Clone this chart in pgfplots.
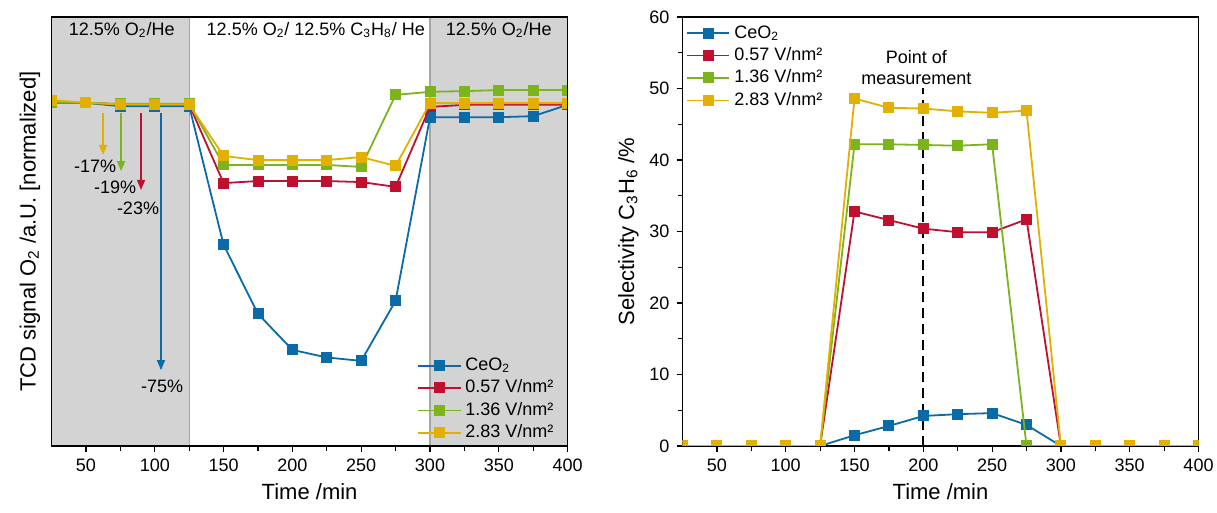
\documentclass[border=0pt]{standalone}
\usepackage{fontspec}
\setmainfont{Liberation Sans}
\usepackage{pgfplots}
\pgfplotsset{compat=1.18}
\usetikzlibrary{arrows.meta}

\definecolor{cblue}{HTML}{0B6BA8}
\definecolor{cred}{HTML}{C0102F}
\definecolor{cgreen}{HTML}{7CB41C}
\definecolor{cyellow}{HTML}{E2B000}
\definecolor{cgray}{HTML}{D3D3D3}
\definecolor{cgrayline}{HTML}{A6A6A6}

\newcommand{\ticksize}{\fontsize{9}{10.8}\selectfont}
\newcommand{\labsize}{\fontsize{11}{13.2}\selectfont}
\newcommand{\notesize}{\fontsize{9}{11}\selectfont}

\pgfplotsset{
  panel/.style={
    scale only axis, width=258pt, height=214.5pt,
    xmin=25, xmax=400, xtick={50,100,...,400}, minor x tick num=1,
    tick align=outside, xtick pos=bottom, ytick pos=left,
    major tick length=3pt, minor tick length=2.5pt,
    axis line style={line width=0.8pt},
    every tick/.style={black, line width=0.6pt},
    /pgf/number format/assume math mode=true,
    tick label style={font=\ticksize},
    label style={font=\labsize},
    xlabel={Time /min},
    xlabel style={at={(axis description cs:0.5,-0.107)}, anchor=center},
    legend style={draw=none, fill=none, font=\ticksize, cells={anchor=west},
      row sep=-0.8pt, inner sep=1pt},
    legend image code/.code={\draw[mark repeat=2,mark phase=2]
      plot coordinates {(0cm,0cm) (0.37cm,0cm) (0.74cm,0cm)};},
    every axis plot/.append style={line width=0.9pt, mark=square*, mark size=2.3pt},
    clip marker paths=true,
  }
}

\begin{document}
\begin{tikzpicture}
\useasboundingbox (-25.8pt,-33.5pt) rectangle (582.7pt,223pt);

% left panel: O2 signal
\begin{axis}[panel, ymin=0, ymax=1.25, ytick=\empty, axis on top,
  ylabel={TCD signal O\textsubscript{2} /a.U. [normalized]},
  ylabel style={at={(axis description cs:-0.042,0.5)}, anchor=center},
  legend style={at={(0.985,-0.003)}, anchor=south east}]
\fill[cgray] (axis cs:25,0) rectangle (axis cs:125,1.25);
\fill[cgray] (axis cs:300,0) rectangle (axis cs:400,1.25);
\draw[cgrayline, line width=0.7pt] (axis cs:125,0) -- (axis cs:125,1.25);
\draw[cgrayline, line width=0.7pt] (axis cs:300,0) -- (axis cs:300,1.25);

\addplot[cblue] coordinates {(25,1.0) (50,1.0) (75,0.99) (100,0.99) (125,0.99)
  (150,0.586) (175,0.385) (200,0.280) (225,0.258) (250,0.248) (275,0.423)
  (300,0.958) (325,0.958) (350,0.958) (375,0.961) (400,0.994)};
\addlegendentry{CeO\textsubscript{2}}
\addplot[cred] coordinates {(25,1.0) (50,1.0) (75,0.995) (100,0.995) (125,0.995)
  (150,0.766) (175,0.772) (200,0.772) (225,0.772) (250,0.769) (275,0.755)
  (300,0.988) (325,0.994) (350,0.994) (375,0.994) (400,0.994)};
\addlegendentry{0.57 V/nm²}
\addplot[cgreen] coordinates {(25,1.0) (50,1.0) (75,0.997) (100,0.997) (125,0.997)
  (150,0.819) (175,0.819) (200,0.819) (225,0.819) (250,0.813) (275,1.023)
  (300,1.032) (325,1.034) (350,1.037) (375,1.037) (400,1.037)};
\addlegendentry{1.36 V/nm²}
\addplot[cyellow] coordinates {(25,1.008) (50,1.0) (75,0.995) (100,0.995) (125,0.995)
  (150,0.845) (175,0.833) (200,0.833) (225,0.833) (250,0.842) (275,0.816)
  (300,0.999) (325,0.999) (350,0.999) (375,0.999) (400,0.999)};
\addlegendentry{2.83 V/nm²}

\draw[cyellow, line width=0.7pt, -{Triangle[length=5pt,width=4pt]}] (axis cs:62.4,0.97) -- (axis cs:62.4,0.848);
\draw[cgreen, line width=0.7pt, -{Triangle[length=5pt,width=4pt]}] (axis cs:75.5,0.97) -- (axis cs:75.5,0.801);
\draw[cred, line width=0.7pt, -{Triangle[length=5pt,width=4pt]}] (axis cs:90,0.97) -- (axis cs:90,0.746);
\draw[cblue, line width=0.7pt, -{Triangle[length=5pt,width=4pt]}] (axis cs:104.5,0.97) -- (axis cs:104.5,0.221);
\node[font=\notesize] at (axis cs:56.6,0.816) {-17\%};
\node[font=\notesize] at (axis cs:71.1,0.755) {-19\%};
\node[font=\notesize] at (axis cs:87.8,0.693) {-23\%};
\node[font=\notesize] at (axis cs:105.3,0.175) {-75\%};

\node[font=\notesize] at (axis cs:76,1.212) {12.5\% O\textsubscript{2}/He};
\node[font=\notesize] at (axis cs:217,1.212) {12.5\% O\textsubscript{2}/ 12.5\% C\textsubscript{3}H\textsubscript{8}/ He};
\node[font=\notesize] at (axis cs:350,1.212) {12.5\% O\textsubscript{2}/He};
\end{axis}

% right panel: selectivity
\begin{axis}[panel, at={(315.45pt,0pt)}, ymin=0, ymax=60,
  ytick={0,10,...,60}, minor y tick num=1,
  ylabel={Selectivity C\textsubscript{3}H\textsubscript{6} /\%},
  ylabel style={at={(axis description cs:-0.105,0.5)}, anchor=center},
  legend style={at={(0.003,0.995)}, anchor=north west}]
\draw[black, line width=1pt, dash pattern=on 5pt off 3pt] (axis cs:200,0) -- (axis cs:200,50);
\node[font=\ticksize, align=center] at (axis cs:195,52.9) {Point of\\measurement};

\addplot[cblue] coordinates {(25,0) (50,0) (75,0) (100,0) (125,0)
  (150,1.5) (175,2.8) (200,4.2) (225,4.45) (250,4.6) (275,2.95)
  (300,0) (325,0) (350,0) (375,0) (400,0)};
\addlegendentry{CeO\textsubscript{2}}
\addplot[cred] coordinates {(25,0) (50,0) (75,0) (100,0) (125,0)
  (150,32.8) (175,31.6) (200,30.4) (225,29.9) (250,29.9) (275,31.7)
  (300,0) (325,0) (350,0) (375,0) (400,0)};
\addlegendentry{0.57 V/nm²}
\addplot[cgreen] coordinates {(25,0) (50,0) (75,0) (100,0) (125,0)
  (150,42.2) (175,42.2) (200,42.1) (225,42.0) (250,42.2) (275,0)
  (300,0) (325,0) (350,0) (375,0) (400,0)};
\addlegendentry{1.36 V/nm²}
\addplot[cyellow] coordinates {(25,0) (50,0) (75,0) (100,0) (125,0)
  (150,48.6) (175,47.3) (200,47.2) (225,46.8) (250,46.6) (275,46.9)
  (300,0) (325,0) (350,0) (375,0) (400,0)};
\addlegendentry{2.83 V/nm²}
\end{axis}
\end{tikzpicture}
\end{document}
